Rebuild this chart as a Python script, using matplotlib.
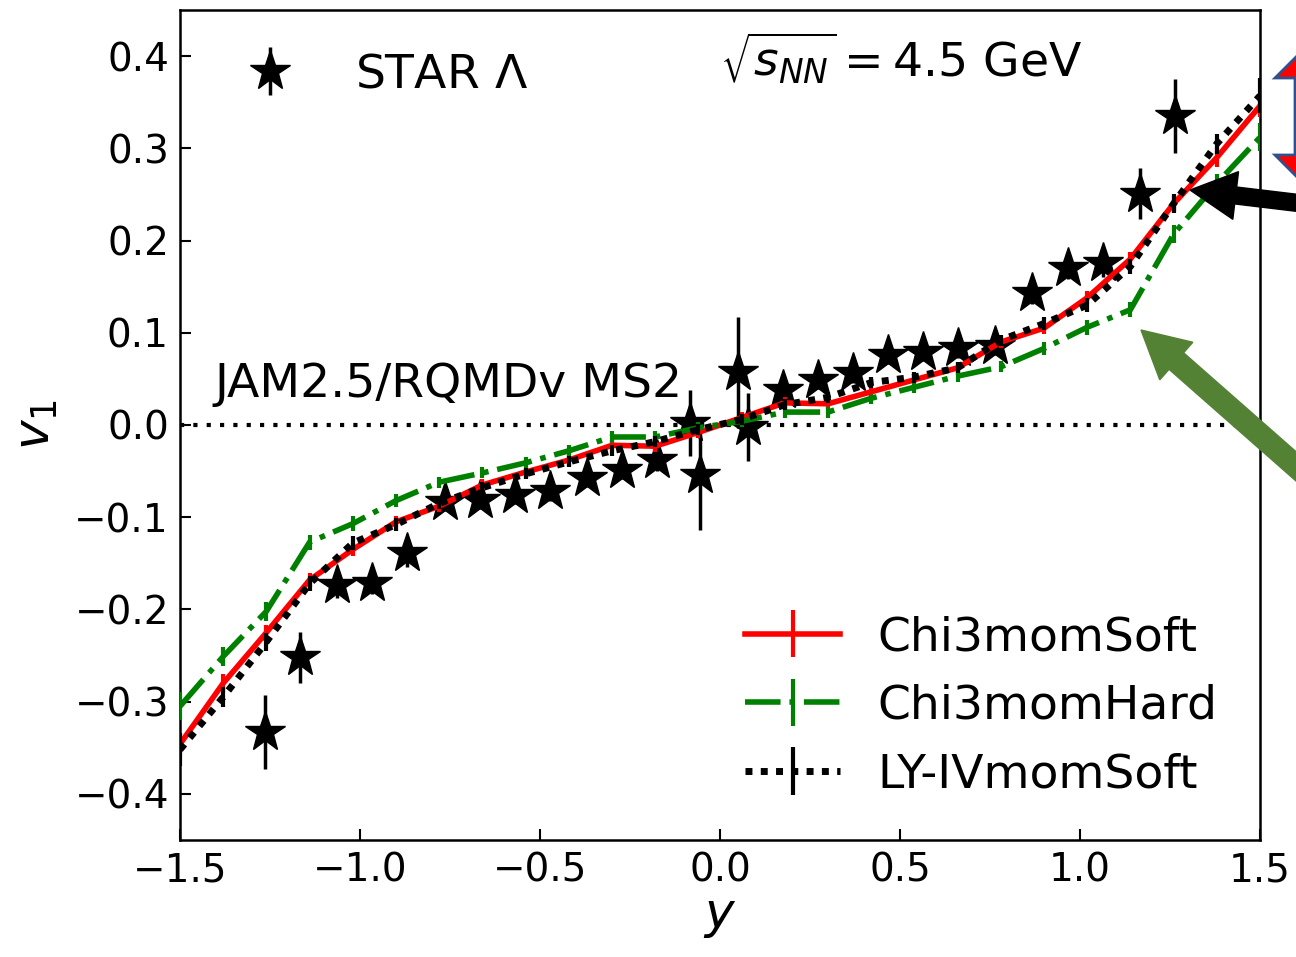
import numpy as np
import matplotlib.pyplot as plt
from matplotlib.patches import FancyArrow, Polygon

# STAR Lambda data
star_y = [-1.264, -1.167, -1.064, -0.967, -0.869, -0.764, -0.667, -0.569, -0.472, -0.369,
          -0.272, -0.175, -0.083, -0.056, 0.050, 0.078, 0.175, 0.272, 0.369, 0.467,
          0.564, 0.661, 0.764, 0.867, 0.967, 1.064, 1.167, 1.264]
star_v1 = [-0.333, -0.252, -0.173, -0.171, -0.139, -0.083, -0.081, -0.076, -0.072, -0.057,
           -0.049, -0.038, 0.002, -0.054, 0.057, -0.002, 0.038, 0.049, 0.056, 0.076,
           0.079, 0.083, 0.086, 0.143, 0.170, 0.176, 0.251, 0.335]
star_err = [0.040, 0.028, 0.015, 0.012, 0.015, 0.010, 0.010, 0.010, 0.010, 0.010,
            0.010, 0.012, 0.036, 0.060, 0.060, 0.037, 0.012, 0.010, 0.010, 0.010,
            0.010, 0.010, 0.010, 0.012, 0.012, 0.015, 0.028, 0.040]

# model rapidity grid
y_model = [-1.50, -1.38, -1.26, -1.14, -1.02, -0.90, -0.78, -0.66, -0.54, -0.42, -0.30, -0.18, -0.06,
           0.06, 0.18, 0.30, 0.42, 0.54, 0.66, 0.78, 0.90, 1.02, 1.14, 1.26, 1.38, 1.50]

soft = [-0.346, -0.280, -0.225, -0.168, -0.135, -0.105, -0.088, -0.065, -0.051, -0.038, -0.022, -0.023, -0.008,
        0.008, 0.024, 0.023, 0.036, 0.049, 0.062, 0.090, 0.105, 0.138, 0.180, 0.240, 0.290, 0.346]
soft_err = [0.012, 0.010, 0.008, 0.008, 0.007, 0.006, 0.006, 0.006, 0.006, 0.006, 0.006, 0.006, 0.006,
            0.006, 0.006, 0.006, 0.006, 0.006, 0.006, 0.006, 0.006, 0.007, 0.008, 0.008, 0.010, 0.012]

hard = [-0.305, -0.251, -0.202, -0.127, -0.107, -0.082, -0.062, -0.052, -0.041, -0.028, -0.013, -0.013, -0.003,
        0.004, 0.014, 0.014, 0.029, 0.041, 0.053, 0.063, 0.083, 0.106, 0.125, 0.207, 0.262, 0.312]
hard_err = [0.015, 0.010, 0.010, 0.008, 0.008, 0.007, 0.006, 0.006, 0.006, 0.006, 0.006, 0.006, 0.006,
            0.006, 0.006, 0.006, 0.006, 0.006, 0.006, 0.006, 0.007, 0.008, 0.008, 0.010, 0.010, 0.015]

lyiv = [-0.352, -0.295, -0.235, -0.172, -0.128, -0.108, -0.085, -0.068, -0.053, -0.040, -0.028, -0.018, -0.005,
        0.006, 0.022, 0.030, 0.046, 0.052, 0.062, 0.092, 0.110, 0.130, 0.172, 0.240, 0.305, 0.357]
lyiv_err = [0.018, 0.011, 0.010, 0.008, 0.008, 0.007, 0.006, 0.006, 0.006, 0.006, 0.006, 0.006, 0.006,
            0.006, 0.006, 0.006, 0.006, 0.006, 0.006, 0.006, 0.007, 0.008, 0.008, 0.010, 0.011, 0.019]

W, H = 1296, 957
fig = plt.figure(figsize=(W / 100, H / 100), dpi=100)
ax = fig.add_axes([180 / W, 117 / H, 1080 / W, 830 / H])

ax.axhline(0, color="black", linewidth=3, linestyle=(0, (1, 2.2)), zorder=1)

h_star = ax.errorbar(star_y, star_v1, yerr=star_err, fmt="*", color="black", markersize=30,
                     elinewidth=2.5, capsize=0, zorder=2, label=r"STAR $\Lambda$")

h1 = ax.errorbar(y_model, soft, yerr=soft_err, color="red", linewidth=4, linestyle="-",
                 elinewidth=3, capsize=0, zorder=3, label="Chi3momSoft")
h2 = ax.errorbar(y_model, hard, yerr=hard_err, color="green", linewidth=4, linestyle="-.",
                 elinewidth=3, capsize=0, zorder=3, label="Chi3momHard")
h3 = ax.errorbar(y_model, lyiv, yerr=lyiv_err, color="black", linewidth=5, linestyle=(0, (1, 1.2)),
                 elinewidth=3, capsize=0, zorder=4, label="LY-IVmomSoft")

ax.set_xlim(-1.5, 1.5)
ax.set_ylim(-0.45, 0.45)
ax.set_xticks([-1.5, -1.0, -0.5, 0.0, 0.5, 1.0, 1.5])
ax.set_yticks([-0.4, -0.3, -0.2, -0.1, 0.0, 0.1, 0.2, 0.3, 0.4])
ax.tick_params(direction="in", length=8, width=1.5, labelsize=28, pad=8)
for s in ax.spines.values():
    s.set_linewidth(1.8)

ax.set_xlabel(r"$y$", fontsize=36, labelpad=2)
ax.set_ylabel(r"$v_1$", fontsize=36, labelpad=10)

ax.text(-1.405, 0.03, "JAM2.5/RQMDv MS2", fontsize=34, ha="left", va="baseline")
ax.text(0.0, 0.378, r"$\sqrt{s_{NN}}=4.5$ GeV", fontsize=34, ha="left", va="baseline")

leg1 = ax.legend(handles=[h_star], loc="upper left", frameon=False, fontsize=34)
ax.add_artist(leg1)
ax.legend(handles=[h1, h2, h3], loc="lower right", frameon=False, fontsize=34)

# annotation arrows (figure pixels)
tr = fig.dpi_scale_trans


def px(x, y):
    return x / 100, (H - y) / 100


# black arrow
x0, y0 = px(1340, 208)
x1, y1 = px(1190, 190)
fig.add_artist(FancyArrow(x0, y0, x1 - x0, y1 - y0, width=0.17, head_width=0.48,
                          head_length=0.46, length_includes_head=True,
                          color="black", transform=tr))
# green arrow
x0, y0 = px(1340, 505)
x1, y1 = px(1141, 330)
fig.add_artist(FancyArrow(x0, y0, x1 - x0, y1 - y0, width=0.22, head_width=0.50,
                          head_length=0.47, length_includes_head=True,
                          color="#548235", transform=tr))
# red double arrow
cx, top, bot, hl, hw, sw = 1313, 40, 193, 38, 38, 18
verts = [px(cx, top), px(cx + hw, top + hl), px(cx + sw, top + hl), px(cx + sw, bot - hl),
         px(cx + hw, bot - hl), px(cx, bot), px(cx - hw, bot - hl), px(cx - sw, bot - hl),
         px(cx - sw, top + hl), px(cx - hw, top + hl)]
fig.add_artist(Polygon(verts, closed=True, facecolor="red", edgecolor="#2f528f",
                       lw=2, transform=tr))

fig.savefig("out.png", dpi=100)
